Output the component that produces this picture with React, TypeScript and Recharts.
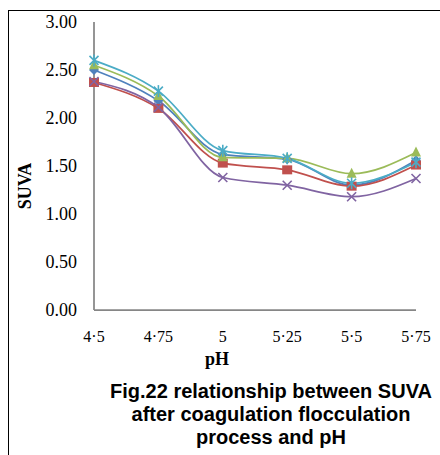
import React from 'react';
import { LineChart, Line, XAxis, YAxis, Label } from 'recharts';

// pH categories and SUVA readings per series
const phLabels = ['4·5', '4·75', '5', '5·25', '5·5', '5·75'];
const suvaBlue = [2.5, 2.18, 1.62, 1.57, 1.3, 1.56];
const suvaRed = [2.37, 2.1, 1.53, 1.46, 1.29, 1.51];
const suvaGreen = [2.55, 2.23, 1.59, 1.58, 1.42, 1.64];
const suvaPurple = [2.38, 2.11, 1.38, 1.3, 1.18, 1.37];
const suvaCyan = [2.6, 2.28, 1.66, 1.58, 1.32, 1.54];
const yTicks = [0, 0.5, 1, 1.5, 2, 2.5, 3];

const data = phLabels.map((ph, i) => ({
  ph,
  s1: suvaBlue[i],
  s2: suvaRed[i],
  s3: suvaGreen[i],
  s4: suvaPurple[i],
  s5: suvaCyan[i],
}));

const series = [
  { key: 's1', color: '#4F81BD', shape: 'diamond' },
  { key: 's2', color: '#C0504D', shape: 'square' },
  { key: 's3', color: '#9BBB59', shape: 'triangle' },
  { key: 's4', color: '#8064A2', shape: 'x' },
  { key: 's5', color: '#4BACC6', shape: 'star' },
];

function Marker({ cx, cy, shape, color }: { cx: number; cy: number; shape: string; color: string }) {
  if (cx == null || cy == null) return null;
  if (shape === 'diamond') {
    return <polygon points={`${cx},${cy - 5} ${cx + 5},${cy} ${cx},${cy + 5} ${cx - 5},${cy}`} fill={color} />;
  }
  if (shape === 'square') {
    return <rect x={cx - 5} y={cy - 4.5} width={10} height={9} fill={color} />;
  }
  if (shape === 'triangle') {
    return <polygon points={`${cx},${cy - 6} ${cx + 5},${cy + 4} ${cx - 5},${cy + 4}`} fill={color} />;
  }
  const d = 4.5;
  return (
    <g stroke={color} strokeWidth={1.6}>
      <line x1={cx - d} y1={cy - d} x2={cx + d} y2={cy + d} />
      <line x1={cx - d} y1={cy + d} x2={cx + d} y2={cy - d} />
      {shape === 'star' && <line x1={cx} y1={cy - 6} x2={cx} y2={cy + 6} />}
    </g>
  );
}

const serif = '"Liberation Serif", "Times New Roman", serif';

export default function App() {
  return (
    <div
      style={{
        position: 'absolute',
        left: 0,
        top: 0,
        width: 440,
        height: 455,
        overflow: 'hidden',
        background: '#fff',
      }}
    >
      <div
        style={{
          position: 'absolute',
          left: 8,
          top: 10,
          width: 460,
          height: 460,
          border: '1.5px solid #000',
        }}
      />
      <LineChart width={440} height={455} data={data} margin={{ top: 22, right: 24, left: 0, bottom: 115 }}>
        <XAxis
          dataKey="ph"
          interval={0}
          tickLine={false}
          tickSize={0}
          tickMargin={21}
          height={30}
          axisLine={{ stroke: '#868686', strokeWidth: 1.75 }}
          tick={{ fill: '#000', fontSize: 16, fontFamily: serif }}
        >
          <Label
            value="pH"
            position="center"
            dx={-38}
            dy={34}
            style={{ fill: '#000', fontSize: 18, fontWeight: 'bold', fontFamily: serif }}
          />
        </XAxis>
        <YAxis
          type="number"
          domain={[0, 3]}
          ticks={yTicks}
          tickFormatter={(v: number) => v.toFixed(2)}
          width={94}
          tickLine={false}
          tickSize={0}
          tickMargin={17}
          axisLine={{ stroke: '#868686', strokeWidth: 1.75 }}
          tick={{ fill: '#000', fontSize: 18, fontFamily: serif }}
        >
          <Label
            value="SUVA"
            angle={-90}
            position="center"
            dx={-22}
            dy={20}
            style={{ fill: '#000', fontSize: 18, fontWeight: 'bold', fontFamily: serif }}
          />
        </YAxis>
        {series.map((s) => (
          <Line
            key={s.key}
            dataKey={s.key}
            type="monotone"
            stroke={s.color}
            strokeWidth={1.75}
            isAnimationActive={false}
            dot={(p: any) => (
              <Marker key={`${s.key}-${p.index}`} cx={p.cx} cy={p.cy} shape={s.shape} color={s.color} />
            )}
            activeDot={false}
          />
        ))}
      </LineChart>
      <div
        style={{
          position: 'absolute',
          left: 91,
          top: 380,
          width: 360,
          textAlign: 'center',
          fontFamily: '"Liberation Sans", Arial, sans-serif',
          fontWeight: 'bold',
          fontSize: 20,
          lineHeight: '23px',
          color: '#000',
        }}
      >
        Fig.22 relationship between SUVA
        <br />
        after coagulation flocculation
        <br />
        process and pH
      </div>
    </div>
  );
}
